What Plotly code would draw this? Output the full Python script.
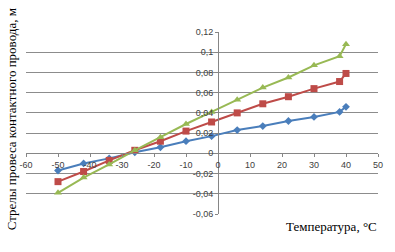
import plotly.graph_objects as go

temps = [-50, -42, -34, -26, -18, -10, -2, 6, 14, 22, 30, 38, 40]
blue_vals = [-0.017, -0.010, -0.005, 0.001, 0.006, 0.012, 0.017, 0.023, 0.027, 0.032, 0.036, 0.041, 0.046]
red_vals = [-0.028, -0.018, -0.007, 0.003, 0.012, 0.022, 0.031, 0.040, 0.049, 0.056, 0.064, 0.071, 0.079]
green_vals = [-0.039, -0.024, -0.011, 0.003, 0.016, 0.029, 0.041, 0.053, 0.065, 0.075, 0.087, 0.096, 0.108]

x_ticks = [-60, -50, -40, -30, -20, -10, 0, 10, 20, 30, 40, 50]
x_ticktext = ["-60", "-50", "-40", "-30", "-20", "-10", "0", "10", "20", "30", "40", "50"]
y_ticks = [-0.06, -0.04, -0.02, 0, 0.02, 0.04, 0.06, 0.08, 0.1, 0.12]
y_ticktext = ["-0,06", "-0,04", "-0,02", "0", "0,02", "0,04", "0,06", "0,08", "0,1", "0,12"]

y_title = "Стрелы провеса контактного провода, м"
x_title = "Температура, °С"

fig = go.Figure()
series = [
    (blue_vals, "#4A7EBB", "diamond", 6),
    (red_vals, "#BE4B48", "square", 7),
    (green_vals, "#98B954", "triangle-up", 7),
]
for vals, col, sym, sz in series:
    fig.add_trace(go.Scatter(
        x=temps, y=vals, mode="lines+markers",
        line=dict(color=col, width=2),
        marker=dict(symbol=sym, size=sz, color=col),
        showlegend=False,
    ))

tick_font = dict(family="Liberation Sans, Arial", size=9, color="#404040")
fig.update_layout(
    width=395, height=252,
    margin=dict(l=26, r=12, t=32, b=38),
    paper_bgcolor="white", plot_bgcolor="white",
    xaxis=dict(
        range=[-60, 50], tickvals=x_ticks, ticktext=x_ticktext,
        showgrid=False, zeroline=False,
        showline=True, linecolor="#868686", linewidth=1,
        ticks="outside", ticklen=3, tickcolor="#868686",
        anchor="free", position=0.06 / 0.18,
        tickfont=tick_font,
    ),
    yaxis=dict(
        range=[-0.06, 0.12], tickvals=y_ticks, ticktext=y_ticktext,
        showgrid=True, gridcolor="#8C8C8C", gridwidth=1,
        zeroline=False,
        showline=True, linecolor="#868686", linewidth=1,
        ticks="outside", ticklen=3, tickcolor="#868686",
        anchor="free", position=60 / 110,
        tickfont=tick_font,
    ),
    annotations=[
        dict(text=y_title, xref="paper", yref="paper", x=-0.039, y=0.522,
             textangle=-90, showarrow=False, xanchor="center", yanchor="middle",
             font=dict(family="Liberation Serif, Times New Roman", size=13, color="black")),
        dict(text=x_title, xref="paper", yref="paper", x=1.003, y=-0.071,
             showarrow=False, xanchor="right", yanchor="middle",
             font=dict(family="Liberation Serif, Times New Roman", size=13, color="black")),
    ],
)

fig.write_html("out.html")
